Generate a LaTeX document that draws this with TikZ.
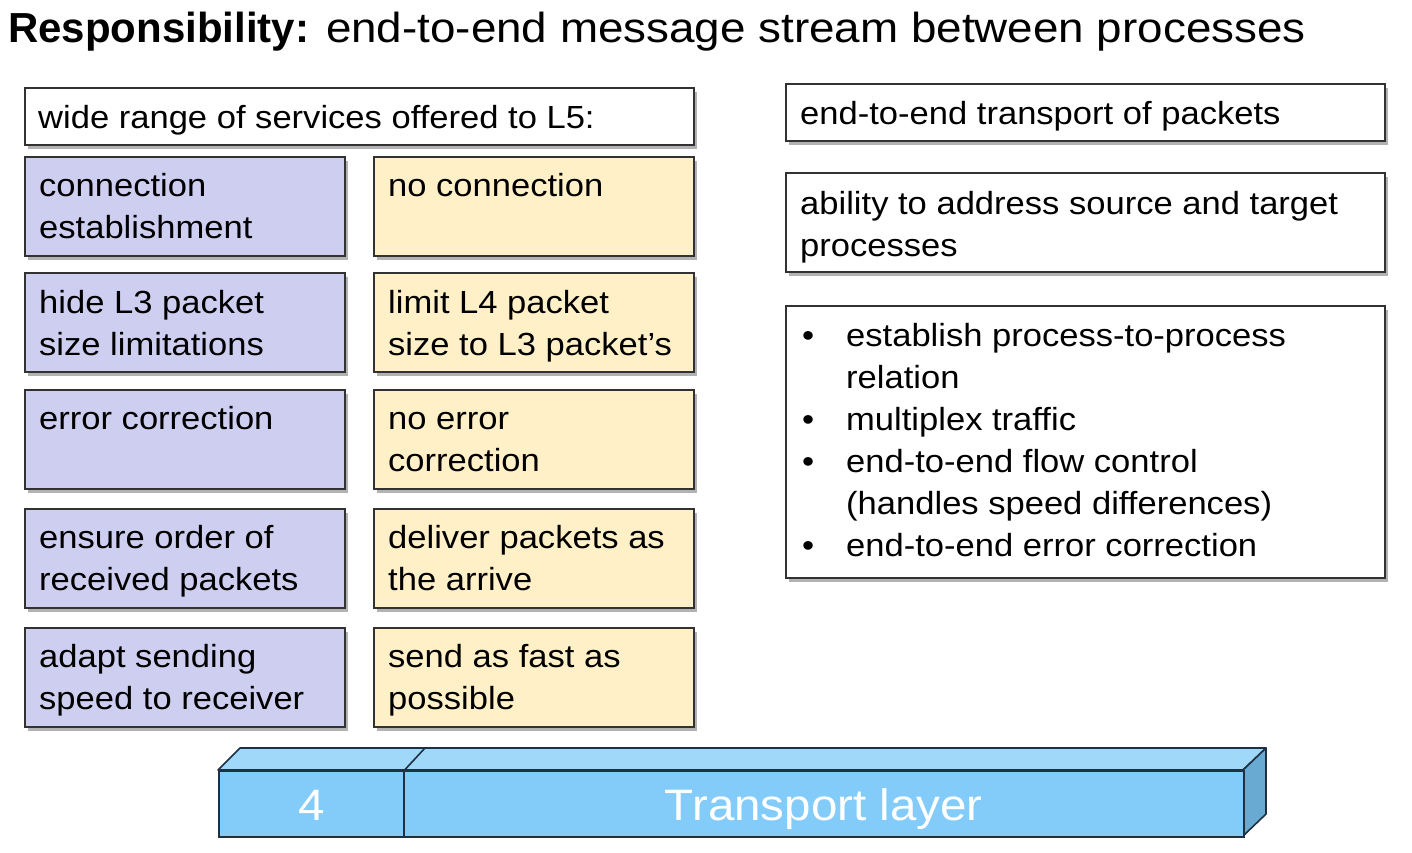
\documentclass[tikz,border=0pt]{standalone}
\usepackage{fontspec}
\setmainfont[FakeStretch=1.08]{Liberation Sans}
\newfontfamily\plainfont{Liberation Sans}
\newfontfamily\widefont[FakeStretch=1.09]{Liberation Sans}
\usetikzlibrary{shadows}
\definecolor{lav}{RGB}{206,206,240}
\definecolor{cream}{RGB}{255,240,200}
\definecolor{boxline}{RGB}{50,50,50}
\definecolor{barfront}{RGB}{131,204,249}
\definecolor{bartop}{RGB}{160,216,250}
\definecolor{barside}{RGB}{104,170,210}
\definecolor{barline}{RGB}{30,48,66}
\newcommand{\boxfont}{\fontsize{32}{42}\selectfont}
\newcommand{\tb}[1]{\parbox[t]{560pt}{\raggedright #1}}
\begin{document}
\begin{tikzpicture}[x=1pt,y=-1pt,
  box/.style={draw=boxline, line width=1.6pt, rectangle, inner sep=0pt, anchor=north west,
    drop shadow={shadow xshift=3pt, shadow yshift=-4pt, opacity=0.3, fill=black}},
  bluebox/.style={box, fill=lav, minimum width=320, minimum height=99},
  ylbox/.style={box, fill=cream, minimum width=320, minimum height=99},
  whitebox/.style={box, fill=white},
  txt/.style={anchor=base west, inner sep=0pt, font=\boxfont},
  front/.style={draw=barline, line width=1.6pt, fill=barfront, anchor=north west, inner sep=0pt,
    minimum height=66, text=white, font=\fontsize{44}{44}\selectfont, text height=33pt, text depth=0pt},
  face/.style={draw=barline, line width=1.6pt, line join=round}
]
\useasboundingbox (0,0) rectangle (1412,852);
\fill[white] (0,0) rectangle (1412,852);

% title
\node[anchor=base west, inner sep=0pt, font=\fontsize{42}{42}\selectfont] (title) at (8,42)
  {{\plainfont\bfseries Responsibility:} {\widefont end-to-end message stream between processes}};

% left header
\node[whitebox, minimum width=669, minimum height=57] (hdr) at (24,87) {};
\node[txt] (hdrt) at (38,128) {wide range of services offered to L5:};

% left columns
\node[bluebox] (c1) at (24,156) {};
\node[ylbox]   (d1) at (373,156) {};
\node[bluebox] (c2) at (24,272) {};
\node[ylbox]   (d2) at (373,272) {};
\node[bluebox] (c3) at (24,389) {};
\node[ylbox]   (d3) at (373,389) {};
\node[bluebox] (c4) at (24,508) {};
\node[ylbox]   (d4) at (373,508) {};
\node[bluebox] (c5) at (24,627) {};
\node[ylbox]   (d5) at (373,627) {};

\node[txt] (c1t) at (39,196) {\tb{connection\\establishment}};
\node[txt] (d1t) at (388,196) {\tb{no connection}};
\node[txt] (c2t) at (39,313) {\tb{hide L3 packet\\size limitations}};
\node[txt] (d2t) at (388,313) {\tb{limit L4 packet\\size to L3 packet’s}};
\node[txt] (c3t) at (39,429) {\tb{error correction}};
\node[txt] (d3t) at (388,429) {\tb{no error\\correction}};
\node[txt] (c4t) at (39,548) {\tb{ensure order of\\received packets}};
\node[txt] (d4t) at (388,548) {\tb{deliver packets as\\the arrive}};
\node[txt] (c5t) at (39,667) {\tb{adapt sending\\speed to receiver}};
\node[txt] (d5t) at (388,667) {\tb{send as fast as\\possible}};

% right boxes
\node[whitebox, minimum width=599, minimum height=57] (r1) at (785,83) {};
\node[txt] (r1t) at (800,124) {end-to-end transport of packets};
\node[whitebox, minimum width=599, minimum height=99] (r2) at (785,172) {};
\node[txt] (r2t) at (800,214) {\tb{ability to address source and target\\processes}};
\node[whitebox, minimum width=599, minimum height=272] (r3) at (785,305) {};
\node[txt] (r3t) at (802,346) {\tb{\makebox[44pt][l]{•}establish process-to-process\\
  \hspace*{44pt}relation\\
  \makebox[44pt][l]{•}multiplex traffic\\
  \makebox[44pt][l]{•}end-to-end flow control\\
  \hspace*{44pt}(handles speed differences)\\
  \makebox[44pt][l]{•}end-to-end error correction}};

% transport layer bar
\filldraw[face, fill=bartop] (218,770) -- (240,748) -- (1266,748) -- (1243,770) -- cycle;
\filldraw[face, fill=barside] (1243,770) -- (1266,748) -- (1266,814) -- (1243,836) -- cycle;
\node[front, minimum width=185] (num) at (218,770) {4};
\node[front, minimum width=840] (layer) at (403,770) {Transport layer};
\draw[face] (num.north east) -- (425,748);
\end{tikzpicture}
\end{document}
